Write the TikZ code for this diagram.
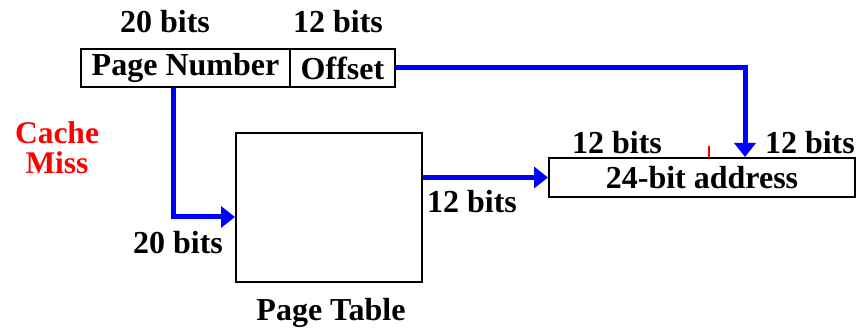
\documentclass[tikz,border=0pt]{standalone}
\usepackage{fontspec}
\setmainfont{Liberation Serif}
\usetikzlibrary{arrows.meta,positioning}

\begin{document}
\begin{tikzpicture}[x=1pt, y=-1pt,
    font=\fontsize{32}{35}\selectfont\bfseries,
    box/.style={draw, line width=2pt, inner sep=0pt, anchor=center},
    bus/.style={blue, line width=5pt, -{Triangle[length=14pt,width=21pt]}},
    lbl/.style={inner sep=0pt, anchor=center}]
  \useasboundingbox (0,0) rectangle (856,328);
  % boxes
  \node[box, minimum width=209pt, minimum height=38pt] (pn) at (185.5,68) {Page Number};
  \node[box, minimum width=105pt, minimum height=38pt] (off) at (342.5,68) {Offset};
  \node[box, minimum width=186pt, minimum height=149pt] (pt) at (329,207.5) {};
  \node[box, minimum width=306pt, minimum height=39pt] (addr) at (702,177.5) {24-bit address};
  % buses
  \draw[bus] ([xshift=-12.5pt]pn.south) |- ([yshift=-9.5pt]pt.west);
  \draw[bus] (off.east) -| ([xshift=43pt]addr.north);
  \draw[bus] (pt.east |- addr.west) -- (addr.west);
  \draw[red, line width=1.5pt] ([xshift=7pt]addr.north) -- ++(0,-11);
  % labels
  \node[lbl] (pnbits) at (165,22) {20 bits};
  \node[lbl] (offbits) at (338,22) {12 bits};
  \node[lbl, red, align=center, font=\fontsize{31.5}{30}\selectfont\bfseries] (miss) at (57,148) {Cache\\Miss};
  \node[lbl] (inbits) at (178,243) {20 bits};
  \node[lbl] (outbits) at (472,202) {12 bits};
  \node[lbl] (ptname) at (331,313) {Page Table};
  \node[lbl] (hibits) at (617,143) {12 bits};
  \node[lbl, anchor=east] (lobits) at (855,143) {12 bits};
\end{tikzpicture}
\end{document}
